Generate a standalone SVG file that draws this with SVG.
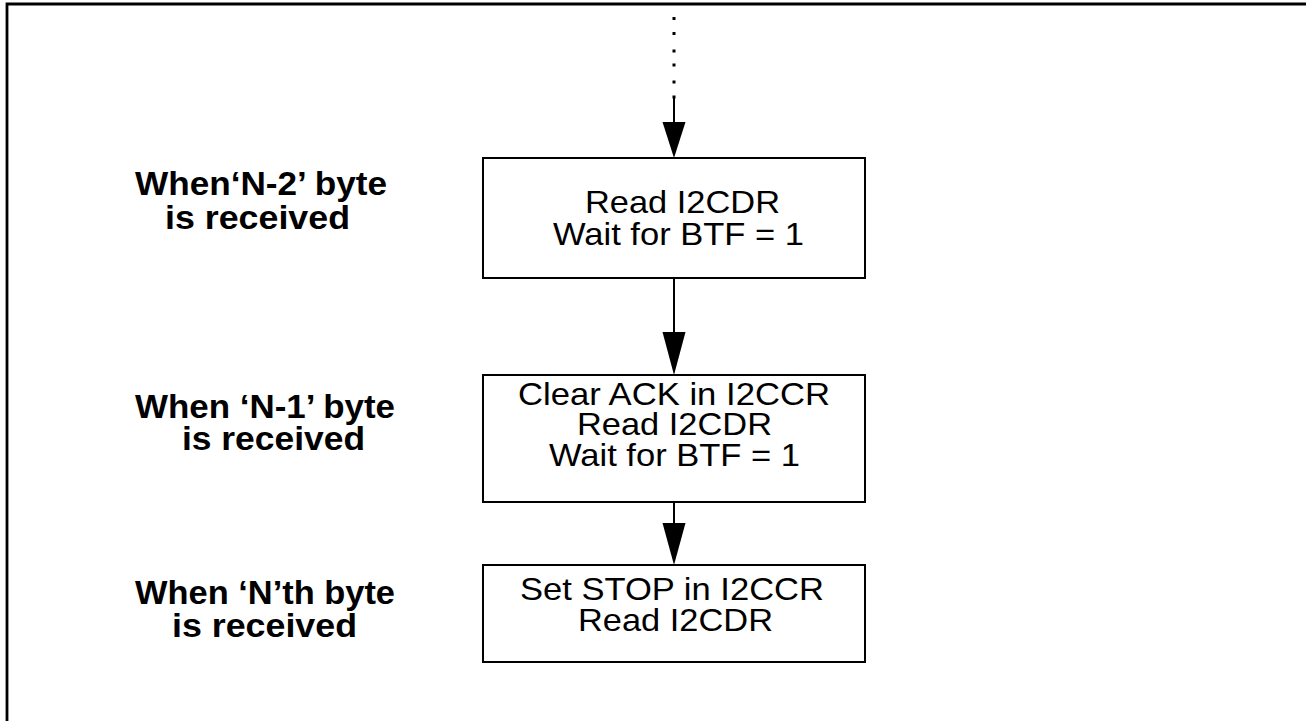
<svg xmlns="http://www.w3.org/2000/svg" width="1306" height="721" viewBox="0 0 1306 721">
<style>
.frame{fill:none;stroke:#000;stroke-width:2.8}
.box{fill:#fff;stroke:#000;stroke-width:2}
.line{fill:none;stroke:#000;stroke-width:2}
.head{fill:#000;stroke:none}
.t{font-family:"Liberation Sans",Arial,sans-serif;font-size:32px;fill:#000}
.b{font-family:"Liberation Sans",Arial,sans-serif;font-size:34px;font-weight:bold;fill:#000}
</style>
<rect width="1306" height="721" fill="#fff"/>
<g id="frame">
<polyline class="frame" points="7,721 7,4 1306,4"/>
</g>
<g id="connectors">
<g id="dots" fill="#000">
<rect x="672.5" y="17" width="3" height="3"/>
<rect x="672.5" y="32" width="3" height="3"/>
<rect x="672.5" y="49.5" width="3" height="3"/>
<rect x="672.5" y="63.5" width="3" height="3"/>
<rect x="672.5" y="80.5" width="3" height="3"/>
<rect x="672.5" y="95.5" width="3" height="3"/>
</g>
<line class="line" x1="674" y1="97" x2="674" y2="124"/>
<polygon class="head" points="662.5,122 685.5,122 674,158"/>
<line class="line" x1="674" y1="278" x2="674" y2="334"/>
<polygon class="head" points="662.5,332 685.5,332 674,375"/>
<line class="line" x1="674" y1="502" x2="674" y2="525"/>
<polygon class="head" points="662.5,523 685.5,523 674,565"/>
</g>
<g id="box1">
<rect class="box" x="483" y="158" width="382" height="120"/>
<text class="t" x="585" y="213" textLength="195" lengthAdjust="spacingAndGlyphs">Read I2CDR</text>
<text class="t" x="553" y="245" textLength="251" lengthAdjust="spacingAndGlyphs">Wait for BTF = 1</text>
</g>
<g id="box2">
<rect class="box" x="483" y="375" width="382" height="127"/>
<text class="t" x="518" y="405" textLength="312" lengthAdjust="spacingAndGlyphs">Clear ACK in I2CCR</text>
<text class="t" x="577" y="435" textLength="195" lengthAdjust="spacingAndGlyphs">Read I2CDR</text>
<text class="t" x="549" y="466" textLength="251" lengthAdjust="spacingAndGlyphs">Wait for BTF = 1</text>
</g>
<g id="box3">
<rect class="box" x="483" y="565" width="382" height="97"/>
<text class="t" x="520" y="600" textLength="304" lengthAdjust="spacingAndGlyphs">Set STOP in I2CCR</text>
<text class="t" x="578" y="631" textLength="195" lengthAdjust="spacingAndGlyphs">Read I2CDR</text>
</g>
<g id="label1">
<text class="b" x="135" y="195" textLength="252" lengthAdjust="spacingAndGlyphs">When‘N-2’ byte</text>
<text class="b" x="165" y="229" textLength="185" lengthAdjust="spacingAndGlyphs">is received</text>
</g>
<g id="label2">
<text class="b" x="135" y="418" textLength="260" lengthAdjust="spacingAndGlyphs">When ‘N-1’ byte</text>
<text class="b" x="182" y="450" textLength="183" lengthAdjust="spacingAndGlyphs">is received</text>
</g>
<g id="label3">
<text class="b" x="135" y="604" textLength="260" lengthAdjust="spacingAndGlyphs">When ‘N’th byte</text>
<text class="b" x="172" y="637" textLength="185" lengthAdjust="spacingAndGlyphs">is received</text>
</g>
</svg>
